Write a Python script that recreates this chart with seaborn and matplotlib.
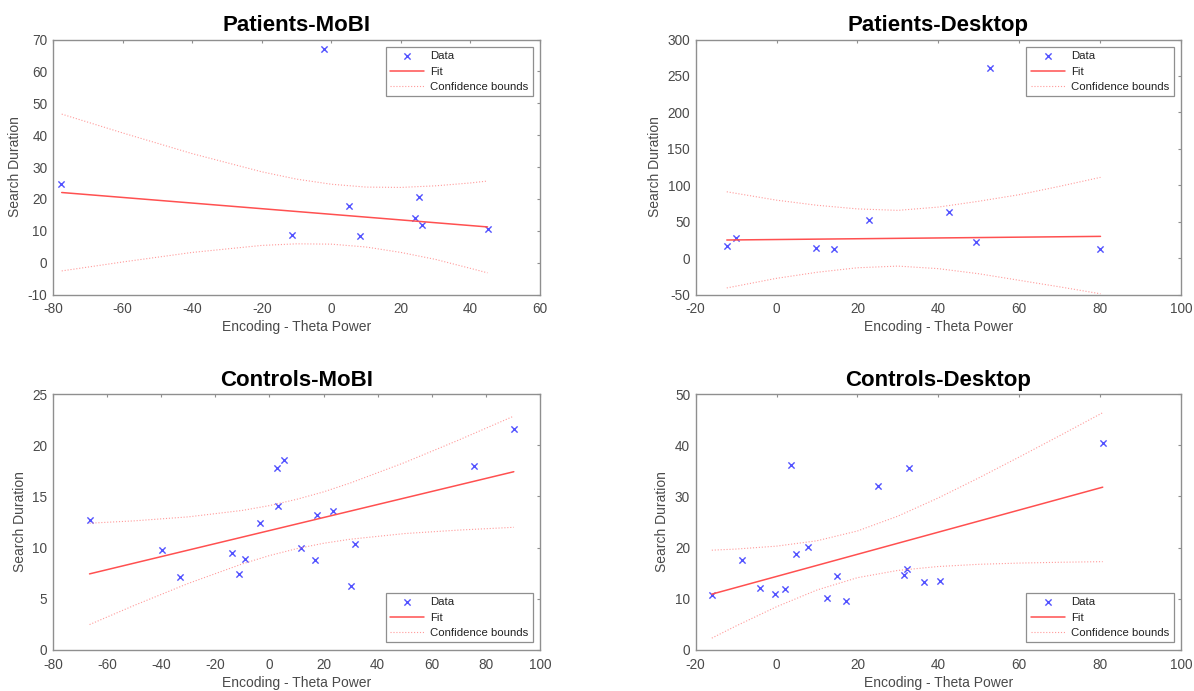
import numpy as np
import seaborn as sns
import matplotlib
matplotlib.use('Agg')
from matplotlib import pyplot as plt

# Patients-MoBI
pm_x = [-77.7, -2.2, -11.3, 5.0, 8.3, 24.1, 25.2, 26.2, 44.9]
pm_y = [24.8, 67.1, 8.8, 17.9, 8.4, 14.0, 20.7, 11.8, 10.5]
pm_fit_x = [-77.5, 44.9]
pm_fit_y = [22.0, 11.2]
pm_ci_x = [-77.5, -60, -40, -20, -10, 0, 10, 20, 30, 40, 44.9]
pm_ci_up = [46.6, 40.7, 34.2, 28.5, 26.2, 24.6, 23.7, 23.6, 24.1, 25.0, 25.6]
pm_ci_lo = [-2.6, 0.2, 3.2, 5.4, 5.9, 5.8, 4.9, 3.2, 1.0, -1.8, -3.2]

# Patients-Desktop
pd_x = [-12.3, -10.0, 9.8, 14.2, 22.8, 42.6, 49.3, 52.7, 80.1]
pd_y = [16.5, 28.0, 13.3, 12.0, 51.8, 63.3, 22.5, 260.6, 12.4]
pd_fit_x = [-12.3, 80.1]
pd_fit_y = [24.8, 29.8]
pd_ci_x = [-12.3, 0, 10, 20, 30, 40, 50, 60, 70, 80.1]
pd_ci_up = [91.0, 79.5, 72.5, 67.5, 65.5, 70.0, 78.0, 87.0, 98.5, 110.8]
pd_ci_lo = [-41.0, -27.8, -19.5, -13.3, -11.0, -14.5, -21.5, -30.5, -39.5, -49.0]

# Controls-MoBI
cm_x = [-66.5, -39.7, -33.0, -13.7, -11.1, -9.2, -3.4, 2.9, 3.3, 5.2,
        11.7, 16.9, 17.7, 23.3, 30.2, 31.7, 75.5, 90.3]
cm_y = [12.65, 9.76, 7.1, 9.5, 7.46, 8.85, 12.42, 17.8, 14.07, 18.58,
        9.95, 8.75, 13.16, 13.59, 6.2, 10.38, 17.93, 21.6]
cm_fit_x = [-66.5, 90.3]
cm_fit_y = [7.43, 17.41]
cm_ci_x = [-66.5, -50, -30, -10, 0, 10, 20, 30, 50, 70, 90.3]
cm_ci_up = [12.38, 12.61, 13.0, 13.63, 14.1, 14.71, 15.44, 16.32, 18.31, 20.51, 22.84]
cm_ci_lo = [2.48, 4.35, 6.5, 8.41, 9.22, 9.89, 10.42, 10.82, 11.37, 11.71, 11.98]

# Controls-Desktop
cd_x = [-16.0, -8.5, -4.1, -0.4, 2.1, 3.5, 4.8, 7.9, 12.5, 14.9,
        17.2, 25.1, 31.4, 32.2, 32.8, 36.4, 40.3, 80.65]
cd_y = [10.7, 17.5, 12.1, 11.0, 11.95, 36.2, 18.7, 20.1, 10.1, 14.5,
        9.5, 32.0, 14.6, 15.9, 35.6, 13.25, 13.44, 40.4]
cd_fit_x = [-16.0, 80.65]
cd_fit_y = [10.9, 31.8]
cd_ci_x = [-16, -10, 0, 10, 20, 30, 40, 50, 60, 70, 80.65]
cd_ci_up = [19.49, 19.71, 20.28, 21.33, 23.24, 26.14, 29.7, 33.61, 37.69, 41.85, 46.35]
cd_ci_lo = [2.31, 4.69, 8.44, 11.71, 14.12, 15.54, 16.3, 16.73, 16.97, 17.13, 17.25]

legend_labels = ['Data', 'Fit', 'Confidence bounds']

sns.set_style('white')
plt.rcParams['font.family'] = ['Liberation Sans', 'DejaVu Sans']
plt.rcParams['axes.unicode_minus'] = False

fig = plt.figure(figsize=(11.94, 6.91), dpi=100)

TEXT = '#4a4a4a'
EDGE = '#8f8f8f'


def draw(pos, title, x, y, fit_x, fit_y, ci_x, ci_up, ci_lo,
         xlim, xstep, ylim, ystep, legend_top):
    ax = fig.add_axes(pos)
    sns.scatterplot(x=x, y=y, ax=ax, marker='x', color='#5252ff',
                    s=20, linewidth=1.0)
    sns.lineplot(x=fit_x, y=fit_y, ax=ax, color='#ff5050', lw=1.1,
                 estimator=None, sort=False)
    sns.lineplot(x=ci_x, y=ci_up, ax=ax, color='#ff9a9a', lw=0.8,
                 linestyle=':', estimator=None, sort=False)
    sns.lineplot(x=ci_x, y=ci_lo, ax=ax, color='#ff9a9a', lw=0.8,
                 linestyle=':', estimator=None, sort=False)

    ax.set_xlim(xlim)
    ax.set_ylim(ylim)
    ax.set_xticks(np.arange(xlim[0], xlim[1] + 1, xstep))
    ax.set_yticks(np.arange(ylim[0], ylim[1] + 1, ystep))
    ax.tick_params(direction='in', length=2.5, width=0.8, colors=EDGE,
                   labelcolor=TEXT, labelsize=9.8, top=True, right=True)
    ax.tick_params(axis='x', pad=5.5)
    ax.tick_params(axis='y', pad=4)
    for sp in ax.spines.values():
        sp.set_color(EDGE)
        sp.set_linewidth(1.0)

    ax.set_title(title, fontsize=16, fontweight='bold', color='black', pad=6)
    ax.set_xlabel('Encoding - Theta Power', fontsize=10, color=TEXT, labelpad=3)
    ax.set_ylabel('Search Duration', fontsize=10, color=TEXT, labelpad=4)

    handles = [ax.collections[0], ax.lines[0], ax.lines[1]]
    if legend_top:
        loc, anchor = 'upper right', (0.985, 0.971)
    else:
        loc, anchor = 'lower right', (0.985, 0.03)
    leg = ax.legend(handles, legend_labels, loc=loc, bbox_to_anchor=anchor,
                    borderaxespad=0, fontsize=8.2, frameon=True, fancybox=False,
                    framealpha=1, edgecolor=EDGE, handlelength=3.0,
                    handletextpad=0.5, labelspacing=0.45, borderpad=0.4,
                    scatterpoints=1)
    leg.get_frame().set_linewidth(0.9)
    for t in leg.get_texts():
        t.set_color('#222222')
    return ax


draw([0.0444, 0.5738, 0.4079, 0.3690], 'Patients-MoBI',
     pm_x, pm_y, pm_fit_x, pm_fit_y, pm_ci_x, pm_ci_up, pm_ci_lo,
     (-80, 60), 20, (-10, 70), 10, True)
draw([0.5826, 0.5738, 0.4065, 0.3690], 'Patients-Desktop',
     pd_x, pd_y, pd_fit_x, pd_fit_y, pd_ci_x, pd_ci_up, pd_ci_lo,
     (-20, 100), 20, (-50, 300), 50, True)
draw([0.0444, 0.0594, 0.4079, 0.3704], 'Controls-MoBI',
     cm_x, cm_y, cm_fit_x, cm_fit_y, cm_ci_x, cm_ci_up, cm_ci_lo,
     (-80, 100), 20, (0, 25), 5, False)
draw([0.5826, 0.0594, 0.4065, 0.3704], 'Controls-Desktop',
     cd_x, cd_y, cd_fit_x, cd_fit_y, cd_ci_x, cd_ci_up, cd_ci_lo,
     (-20, 100), 20, (0, 50), 10, False)

fig.savefig('out.png', dpi=100, facecolor='white')
